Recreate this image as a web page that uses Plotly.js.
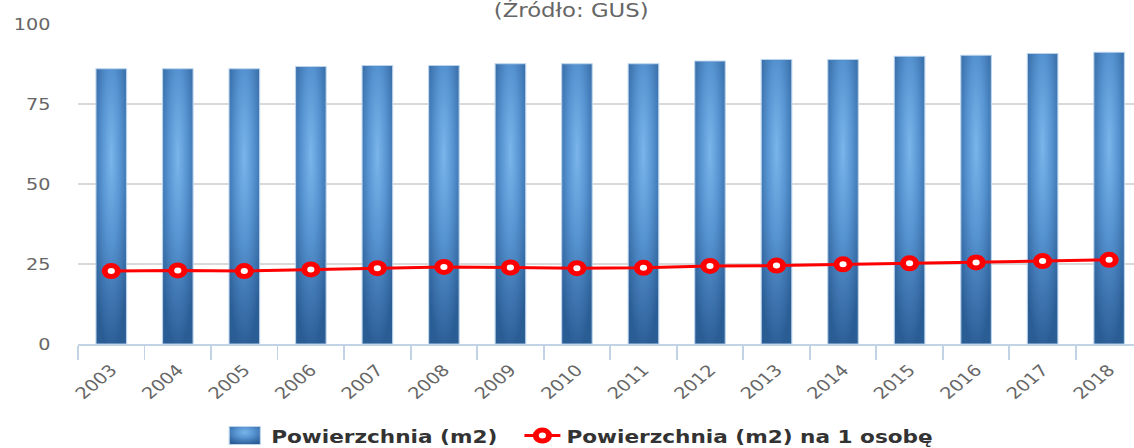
<!DOCTYPE html>
<html>
<head>
<meta charset="utf-8">
<script src="https://cdn.plot.ly/plotly-3.0.1.min.js"></script>
<style>
html,body{margin:0;padding:0;overflow:hidden;background:#fff;width:1134px;height:448px;}
#wrap{width:952px;height:448px;transform:scaleX(1.2);transform-origin:0 0;}
#chart{width:952px;height:448px;}
</style>
</head>
<body>
<div id="wrap"><div id="chart"></div></div>
<script>
const years = ['2003','2004','2005','2006','2007','2008','2009','2010','2011','2012','2013','2014','2015','2016','2017','2018'];
const area = [86.0,86.0,86.0,86.7,87.0,87.0,87.6,87.6,87.6,88.4,88.9,88.9,89.9,90.2,90.8,91.2];
const areaPerPerson = [22.8,23.0,22.8,23.3,23.7,24.1,23.9,23.7,23.8,24.4,24.5,24.9,25.2,25.5,25.9,26.3];
const yTicks = [0,25,50,75,100];
const seriesNames = ['Powierzchnia (m2)','Powierzchnia (m2) na 1 osobę'];
const titleText = '(Źródło: GUS)';

const traces = [
  {
    type:'bar', x:years, y:area, name:seriesNames[0], width:0.46, legend:'legend',
    marker:{color:'#4d89c7', line:{color:'rgba(190,214,238,0.9)', width:1}},
    hoverinfo:'x+y'
  },
  {
    type:'scatter', mode:'lines+markers', x:years, y:areaPerPerson, name:seriesNames[1], legend:'legend2',
    line:{color:'#ff0000', width:3},
    marker:{symbol:'circle', size:11, color:'#ffffff', line:{color:'#ff0000', width:5}}
  }
];

const legFont = {family:'DejaVu Sans, sans-serif', size:18, color:'#333333', weight:'bold'};
const layout = {
  width:952, height:448,
  margin:{l:65, r:0, t:24, b:104, pad:0, autoexpand:false},
  paper_bgcolor:'#ffffff', plot_bgcolor:'#ffffff',
  font:{family:'DejaVu Sans, sans-serif', color:'#666666', size:16},
  title:{text:titleText, font:{family:'DejaVu Sans, sans-serif', size:19, color:'#666666'},
         xref:'container', x:0.5, xanchor:'center', yref:'container', y:0.977, yanchor:'middle'},
  showlegend:true,
  legend:{orientation:'h', xref:'container', x:186/952, xanchor:'left', yref:'container', y:0.027, yanchor:'middle',
          font:legFont, itemwidth:30},
  legend2:{orientation:'h', xref:'container', x:432/952, xanchor:'left', yref:'container', y:0.027, yanchor:'middle',
          font:legFont, itemwidth:30},
  xaxis:{type:'category', range:[-0.5,15.5], autorange:false, automargin:false, tickangle:-45, tickson:'boundaries', ticks:'outside', ticklen:14, tickwidth:1.5,
         tickcolor:'#c3d3e6', showline:true, linecolor:'#c3d3e6', linewidth:1.5, showgrid:false, ticklabelstandoff:9,
         tickfont:{family:'DejaVu Sans, sans-serif', size:16, color:'#666666'}, fixedrange:true},
  yaxis:{range:[0,100], autorange:false, automargin:false, tickvals:yTicks, ticktext:yTicks.map(String), showgrid:true, gridcolor:'#d9d9d9', gridwidth:1.2,
         zeroline:false, showline:false, ticks:'', ticklabelstandoff:22,
         tickfont:{family:'DejaVu Sans, sans-serif', size:16, color:'#666666'}, fixedrange:true},
  bargap:0.54
};

function applyGradient(gd){
  const svg = gd.querySelector('svg.main-svg');
  if(!svg) return;
  let defs = svg.querySelector('defs');
  if(!defs){ defs = document.createElementNS('http://www.w3.org/2000/svg','defs'); svg.insertBefore(defs, svg.firstChild); }
  if(!svg.querySelector('#barGrad')){
    const g = document.createElementNS('http://www.w3.org/2000/svg','radialGradient');
    g.setAttribute('id','barGrad');
    g.setAttribute('cx','0.5'); g.setAttribute('cy','0.32'); g.setAttribute('r','0.7');
    g.setAttribute('gradientUnits','objectBoundingBox');
    [['0','#7ab5ea'],['0.45','#5592d0'],['1','#2b5d95']].forEach(function(s){
      const st = document.createElementNS('http://www.w3.org/2000/svg','stop');
      st.setAttribute('offset',s[0]); st.setAttribute('stop-color',s[1]);
      g.appendChild(st);
    });
    defs.appendChild(g);
  }
  gd.querySelectorAll('.barlayer .point path').forEach(function(p){ p.style.fill='url(#barGrad)'; });
  const leg1 = gd.querySelector('.legend');
  if(leg1){
    leg1.querySelectorAll('.legendpoints path').forEach(function(p){
      p.removeAttribute('transform');
      p.setAttribute('d','M5,-9H31V9H5Z');
      p.style.fill='url(#barGrad)';
    });
  }
}

Plotly.newPlot('chart', traces, layout, {displayModeBar:false, staticPlot:true}).then(applyGradient);
</script>
</body>
</html>
